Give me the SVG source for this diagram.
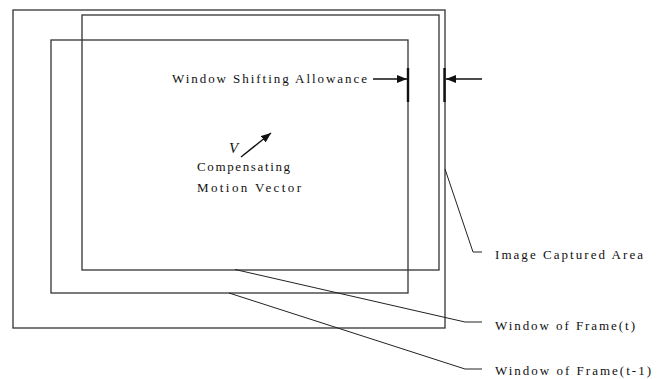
<svg xmlns="http://www.w3.org/2000/svg" width="658" height="379" viewBox="0 0 658 379">
<style>
.frame{fill:none;stroke:#333;stroke-width:1.3}
.lead{fill:none;stroke:#222;stroke-width:1}
.arr{fill:none;stroke:#111;stroke-width:1.4}
.bar{stroke:#111;stroke-width:2.4}
text{font-family:"Liberation Serif","Times New Roman",serif;font-size:13px;fill:#111}
</style>
<defs>
<marker id="ah" viewBox="0 0 10 8" refX="10" refY="4" markerWidth="10" markerHeight="8" markerUnits="userSpaceOnUse" orient="auto">
<path d="M0,0 L10,4 L0,8 Z" fill="#111"/>
</marker>
</defs>
<rect width="658" height="379" fill="#fff"/>
<g id="image-captured-area"><rect class="frame" x="13" y="10" width="432" height="318"/></g>
<g id="window-frame-t"><rect class="frame" x="82" y="15" width="357" height="255"/></g>
<g id="window-frame-t-1"><rect class="frame" x="51" y="40" width="357" height="253"/></g>
<g id="shifting-allowance">
<line class="bar" x1="408" y1="68" x2="408" y2="102"/>
<line class="bar" x1="444.5" y1="68" x2="444.5" y2="102"/>
<text x="172" y="83" textLength="195" lengthAdjust="spacing">Window Shifting Allowance</text>
</g>
<g id="motion-vector">
<text x="229" y="153" style="font-style:italic;font-size:15px">V</text>
<text x="197" y="171" textLength="93" lengthAdjust="spacing">Compensating</text>
<text x="197" y="192" textLength="104" lengthAdjust="spacing">Motion Vector</text>
</g>
<g id="labels">
<text x="495" y="259" textLength="148" lengthAdjust="spacing">Image Captured Area</text>
<text x="495" y="330" textLength="140" lengthAdjust="spacing">Window of Frame(t)</text>
<text x="495" y="375" textLength="156" lengthAdjust="spacing">Window of Frame(t-1)</text>
</g>
<g id="connectors">
<line class="arr" x1="373" y1="79" x2="407" y2="79" marker-end="url(#ah)"/>
<line class="arr" x1="482" y1="79" x2="446" y2="79" marker-end="url(#ah)"/>
<line class="arr" x1="241" y1="157" x2="271" y2="133" marker-end="url(#ah)"/>
<polyline class="lead" points="445,169 473,252 482,252"/>
<polyline class="lead" points="235,269.5 465,322 482,322"/>
<polyline class="lead" points="229,293 465,369 482,369"/>
</g>
</svg>
